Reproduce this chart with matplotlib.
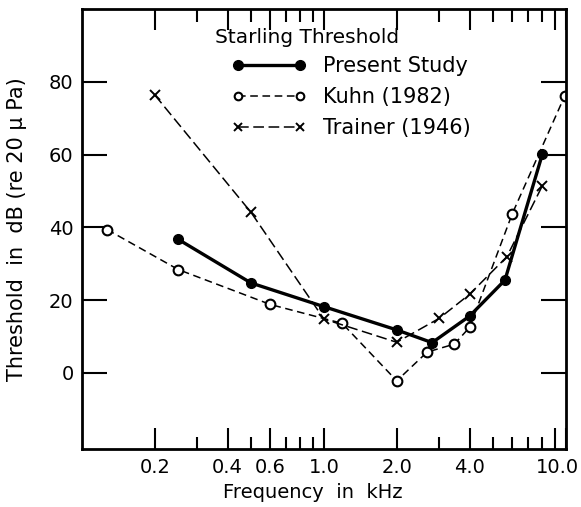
import matplotlib
matplotlib.use("Agg")
import matplotlib.pyplot as plt
import matplotlib.transforms as mtransforms
from matplotlib.ticker import FixedLocator, NullFormatter, FixedFormatter

plt.rcParams['font.family'] = ['DejaVu Sans']

# Data (kHz, dB re 20 uPa)
present_f = [0.25, 0.5, 1.0, 2.0, 2.8, 4.0, 5.6, 8.0]
present_db = [36.7, 24.7, 18.2, 11.8, 8.3, 15.6, 25.5, 60.2]

kuhn_f = [0.127, 0.25, 0.6, 1.19, 2.0, 2.67, 3.46, 4.0, 6.0, 9.9]
kuhn_db = [39.4, 28.4, 18.8, 13.6, -2.2, 5.7, 7.9, 12.5, 43.7, 76.2]

trainer_f = [0.2, 0.5, 1.0, 2.0, 3.0, 4.0, 5.7, 8.0]
trainer_db = [76.4, 44.1, 14.8, 8.4, 15.0, 21.6, 31.9, 51.5]

xtick_major = [0.2, 0.4, 0.6, 1.0, 2.0, 4.0, 9.0, 10.0]
xtick_labels = ["0.2", "0.4", "0.6", "1.0", "2.0", "4.0", "", "10.0"]
xtick_minor = [0.3, 0.5, 0.7, 0.8, 0.9, 3.0, 5.0, 6.0, 7.0, 8.0]
ytick_major = [0, 20, 40, 60, 80]

fig = plt.figure(figsize=(5.81, 5.07), dpi=100)
ax = fig.add_axes([0.141, 0.114, 0.833, 0.868])

ax.plot(present_f, present_db, '-', color='black', lw=2.4, marker='o',
        ms=7, mfc='black', mec='black', label='Present Study')
ax.plot(kuhn_f, kuhn_db, color='black', lw=1.1, dashes=(5, 3), marker='o',
        ms=7, mfc='white', mec='black', mew=1.5, label='Kuhn (1982)')
ax.plot(trainer_f, trainer_db, color='black', lw=1.1, dashes=(7, 3), marker='x',
        ms=7, mec='black', mew=1.4, label='Trainer (1946)')

ax.set_xscale('log')
ax.set_xlim(0.1, 10.0)
ax.set_ylim(-21, 100)

ax.xaxis.set_major_locator(FixedLocator(xtick_major))
ax.xaxis.set_major_formatter(FixedFormatter(xtick_labels))
ax.xaxis.set_minor_locator(FixedLocator(xtick_minor))
ax.xaxis.set_minor_formatter(NullFormatter())
ax.yaxis.set_major_locator(FixedLocator(ytick_major))
ax.yaxis.set_minor_locator(FixedLocator([]))

ax.tick_params(axis='both', which='both', direction='in', top=True, right=True,
               width=1.5, labelsize=14, colors='black')
ax.tick_params(axis='x', which='major', length=15, pad=6)
ax.tick_params(axis='x', which='minor', length=9)
ax.tick_params(axis='y', which='major', length=18, pad=6)

for s in ax.spines.values():
    s.set_linewidth(2)

# shift the "10.0" label slightly left so it stays inside the figure
fig.canvas.draw()
shift = mtransforms.ScaledTranslation(-8 / 100, 0, fig.dpi_scale_trans)
for lbl in ax.get_xticklabels():
    if lbl.get_text() == "10.0":
        lbl.set_transform(lbl.get_transform() + shift)

ax.set_xlabel('Frequency  in  kHz', fontsize=14)
ax.xaxis.set_label_coords(0.477, -0.077)
ax.set_ylabel('Threshold  in  dB (re 20 μ Pa)', fontsize=15)
ax.yaxis.set_label_coords(-0.114, 0.5)

ax.text(0.2748, 0.936, 'Starling Threshold', transform=ax.transAxes,
        fontsize=14.5, ha='left', va='center')
leg = ax.legend(loc='upper left', bbox_to_anchor=(0.3103, 0.893), frameon=False,
                fontsize=15, handlelength=3.54, numpoints=2, handletextpad=0.83,
                labelspacing=0.53, borderpad=0.0, borderaxespad=0.0)
hs = leg.legend_handles
hs[1].set_markersize(5.5)
hs[2].set_markersize(6)

fig.savefig('out.png', dpi=100)
